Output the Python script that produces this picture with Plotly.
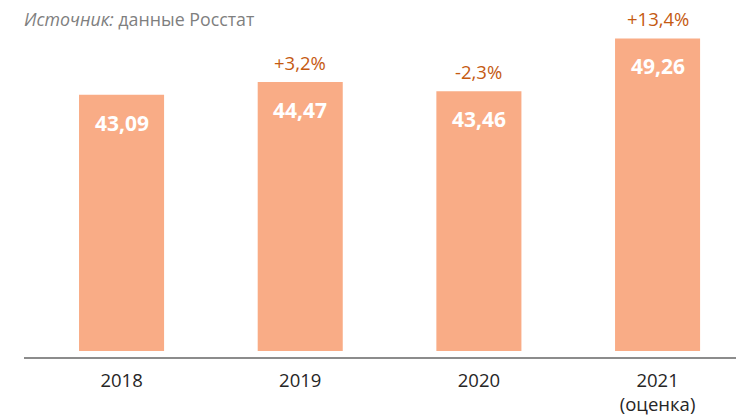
import plotly.graph_objects as go

categories = ["2018", "2019", "2020", "2021<br>(оценка)"]
values = [43.09, 44.47, 43.46, 49.26]
value_labels = ["43,09", "44,47", "43,46", "49,26"]
change_labels = [None, "+3,2%", "-2,3%", "+13,4%"]

BAR_COLOR = "#F9AC86"
CHANGE_COLOR = "#C55A11"
FONT = "Open Sans, Lato, DejaVu Sans, sans-serif"

W, H = 736, 418
ML, MR, MT, MB = 24, 0, 10, 60
pw, ph = W - ML - MR, H - MT - MB

fig = go.Figure()
fig.add_trace(go.Bar(
    x=categories, y=values,
    marker=dict(color=BAR_COLOR, line=dict(width=0)),
    width=0.476,
    hoverinfo="skip",
))

annotations = []
for i, (v, lab, ch) in enumerate(zip(values, value_labels, change_labels)):
    annotations.append(dict(
        x=i, y=v, xref="x", yref="y", text=f"<b>{lab}</b>",
        showarrow=False, yanchor="middle", yshift=-28,
        font=dict(family=FONT, size=21, color="white"),
    ))
    if ch:
        annotations.append(dict(
            x=i, y=v, xref="x", yref="y", text=ch,
            showarrow=False, yanchor="middle", yshift=20,
            font=dict(family=FONT, size=18.5, color=CHANGE_COLOR),
        ))

# source note at page pixel (22, 19)
annotations.append(dict(
    x=(22 - ML) / pw, y=(H - MB - 19) / ph,
    xref="paper", yref="paper", text="<i>Источник:</i> данные Росстат",
    showarrow=False, xanchor="left", yanchor="middle",
    font=dict(family=FONT, size=17.8, color="#7F7F7F"),
))

fig.update_layout(
    width=W, height=H,
    margin=dict(l=ML, r=MR, t=MT, b=MB),
    paper_bgcolor="white", plot_bgcolor="white",
    showlegend=False,
    hovermode=False,
    annotations=annotations,
    xaxis=dict(
        type="category",
        range=[-0.546, 3.439],
        anchor="free", position=0,
        showline=True, linecolor="#8C8C8C", linewidth=1.5,
        ticks="", showgrid=False, ticklabelstandoff=6,
        tickfont=dict(family=FONT, size=18.5, color="#262626"),
    ),
    yaxis=dict(
        range=[15, 52.37],
        domain=[0.0201, 1],
        visible=False, showgrid=False, zeroline=False,
    ),
)

fig.write_html("out.html", config={"displayModeBar": False},
               post_script="document.body.style.margin='0';")
